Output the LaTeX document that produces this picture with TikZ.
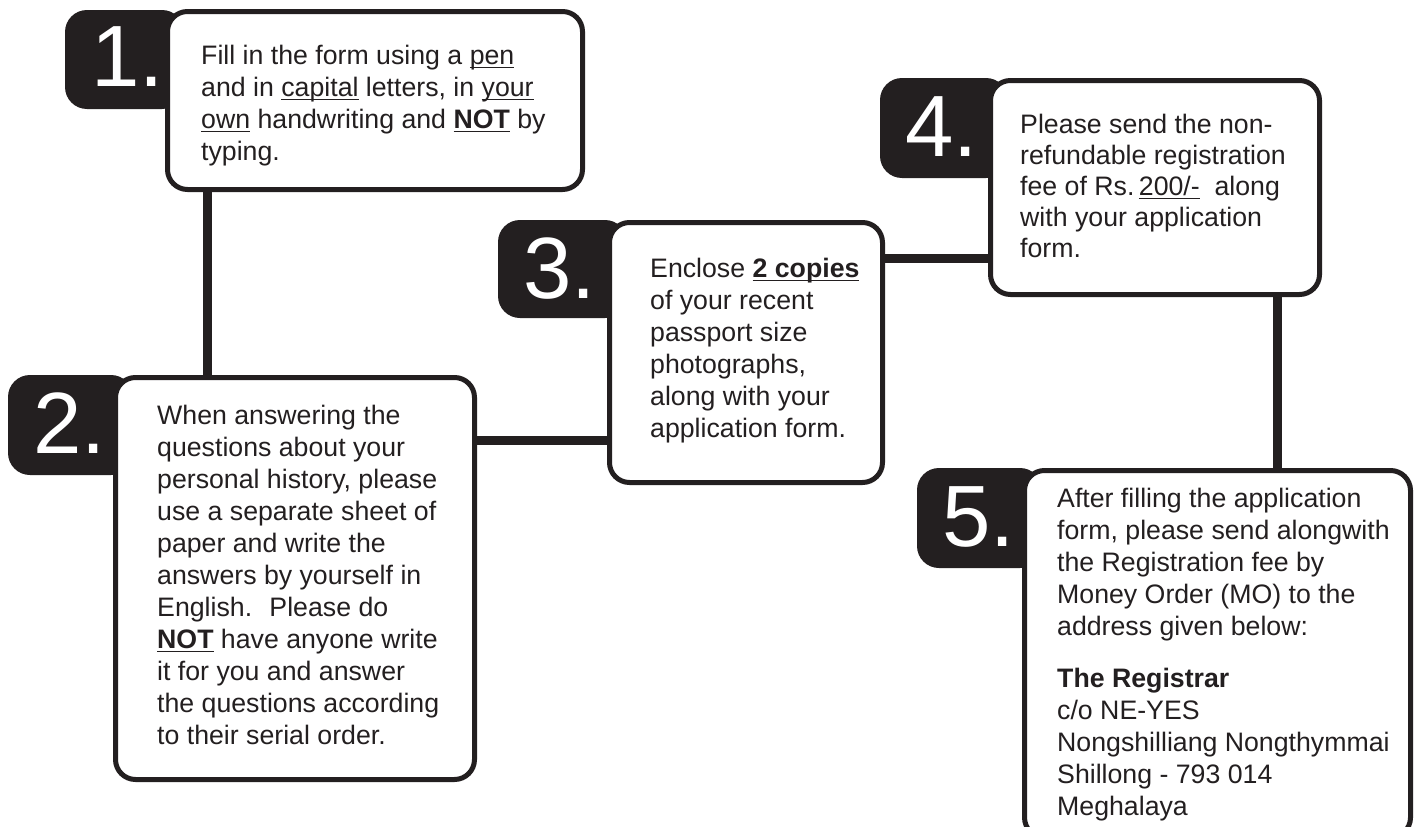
\documentclass[tikz,border=0pt]{standalone}
\usepackage{fontspec}
\setmainfont{Liberation Sans}
\definecolor{ink}{HTML}{231F20}
\newsavebox\myulbox
\newcommand\myul[1]{\leavevmode\sbox\myulbox{#1}\rlap{\color{ink}\rule[-4.2pt]{\wd\myulbox}{1.5pt}}\usebox\myulbox}
\tikzset{
  tab/.style={fill=ink, draw=none, rounded corners=22pt, inner sep=0pt, outer sep=0pt, rectangle},
  wbox/.style={fill=white, draw=ink, line width=5pt, rounded corners=20pt, inner sep=0pt, rectangle},
  num/.style={anchor=base west, inner sep=0pt, text=white, font=\fontsize{87}{87}\selectfont},
  txt/.style={anchor=base west, inner sep=0pt, text=ink},
  conn/.style={draw=ink, line width=9pt}
}
\newcommand\txtlines[2]{\parbox[t]{420pt}{\fontsize{26.7}{#1}\selectfont\raggedright #2}}
\begin{document}
\begin{tikzpicture}[x=1pt,y=-1pt]
\useasboundingbox (0,0) rectangle (1419,827);
\clip (0,0) rectangle (1419,827);
% tabs
\node[tab, minimum width=119pt, minimum height=99pt] (tab1) at (124.5,59.5) {};
\node[tab, minimum width=125pt, minimum height=100pt] (tab2) at (70.5,425) {};
\node[tab, minimum width=129pt, minimum height=98pt] (tab3) at (562.5,269) {};
\node[tab, minimum width=128pt, minimum height=100pt] (tab4) at (944,128) {};
\node[tab, minimum width=125pt, minimum height=100pt] (tab5) at (979.5,518) {};
% white boxes
\node[wbox, minimum width=415pt, minimum height=178pt] (b1) at (375,100.5) {};
\node[wbox, minimum width=359pt, minimum height=402pt] (b2) at (295,578.5) {};
\node[wbox, minimum width=273pt, minimum height=260pt] (b3) at (746,352.5) {};
\node[wbox, minimum width=329pt, minimum height=214pt] (b4) at (1155,187.5) {};
\node[wbox, minimum width=386pt, minimum height=367pt] (b5) at (1217.5,654) {};
% numbers
\node[num] (n1) at (91,86) {1.};
\node[num] (n2) at (33,453) {2.};
\node[num] (n3) at (523,298) {3.};
\node[num] (n4) at (905,156) {4.};
\node[num] (n5) at (942,546) {5.};
% texts
\node[txt] (t1) at (201,64) {\txtlines{32pt}{Fill in the form using a \myul{pen}\\
and in \myul{capital} letters, in \myul{your}\\
\myul{own} handwriting and \myul{\textbf{NOT}} by\\
typing.}};
\node[txt] (t2) at (157,424) {\txtlines{32pt}{When answering the\\
questions about your\\
personal history, please\\
use a separate sheet of\\
paper and write the\\
answers by yourself in\\
English.~ Please do\\
\myul{\textbf{NOT}} have anyone write\\
it for you and answer\\
the questions according\\
to their serial order.}};
\node[txt] (t3) at (650,277) {\txtlines{32pt}{Enclose \myul{\textbf{2 copies}}\\
of your recent\\
passport size\\
photographs,\\
along with your\\
application form.}};
\node[txt] (t4) at (1020,133) {\txtlines{31pt}{Please send the non-\\
refundable registration\\
fee of Rs.\,\myul{200/-}~ along\\
with your application\\
form.}};
\node[txt] (t5) at (1057,507) {\txtlines{32pt}{After filling the application\\
form, please send alongwith\\
the Registration fee by\\
Money Order (MO) to the\\
address given below:\\[20pt]
\textbf{The Registrar}\\
c/o NE-YES\\
Nongshilliang Nongthymmai\\
Shillong - 793 014\\
Meghalaya}};
% connectors
\coordinate (x12) at (207,0);
\coordinate (y23) at (0,440);
\coordinate (y34) at (0,258);
\coordinate (x45) at (1277,0);
\draw[conn] (b1.south -| x12) -- (b2.north -| x12);
\draw[conn] (b2.east |- y23) -- (b3.west |- y23);
\draw[conn] (b3.east |- y34) -- (b4.west |- y34);
\draw[conn] (b4.south -| x45) -- (b5.north -| x45);
\end{tikzpicture}
\end{document}
